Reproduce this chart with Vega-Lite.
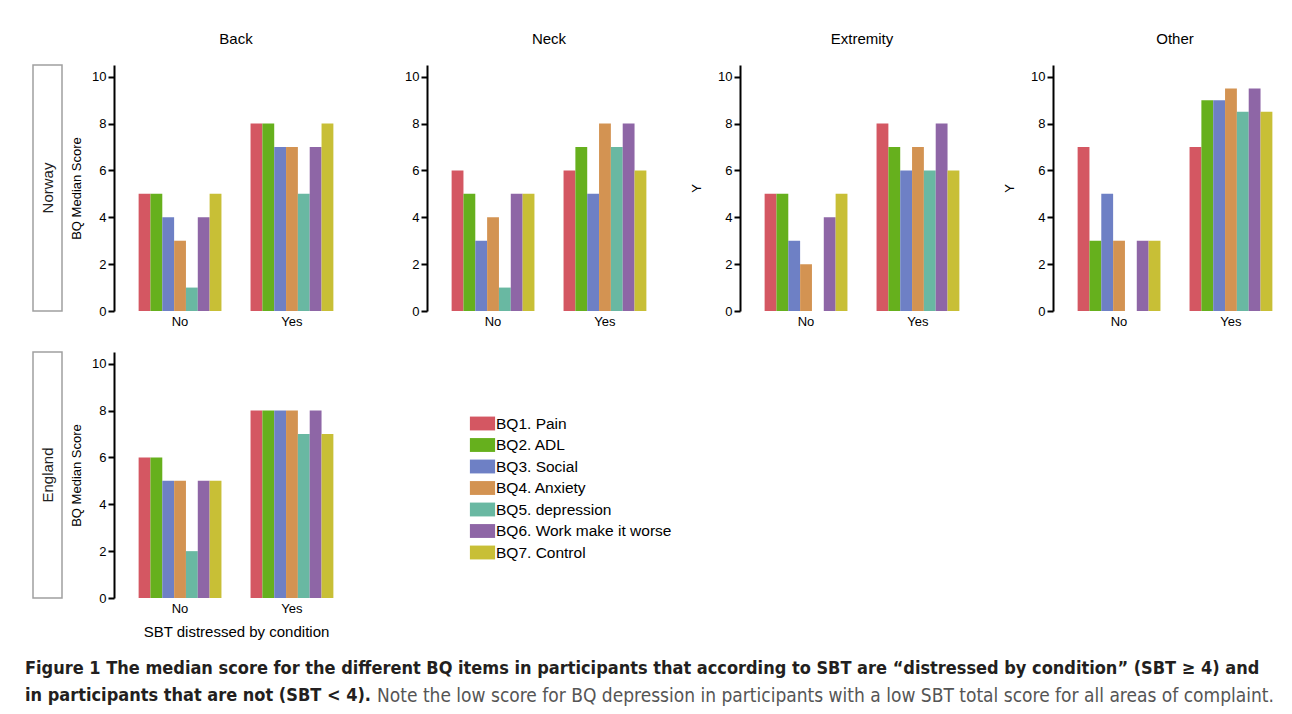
{
  "$schema": "https://vega.github.io/schema/vega-lite/v6.json",
  "padding": {"left": 25, "top": 31, "right": 0, "bottom": 0},
  "background": "white",
  "datasets": {
    "bq": [
      {"country": "Norway", "region": "Back", "sbt": "No", "item": "BQ1. Pain", "score": 5},
      {"country": "Norway", "region": "Back", "sbt": "No", "item": "BQ2. ADL", "score": 5},
      {"country": "Norway", "region": "Back", "sbt": "No", "item": "BQ3. Social", "score": 4},
      {"country": "Norway", "region": "Back", "sbt": "No", "item": "BQ4. Anxiety", "score": 3},
      {"country": "Norway", "region": "Back", "sbt": "No", "item": "BQ5. depression", "score": 1},
      {"country": "Norway", "region": "Back", "sbt": "No", "item": "BQ6. Work make it worse", "score": 4},
      {"country": "Norway", "region": "Back", "sbt": "No", "item": "BQ7. Control", "score": 5},
      {"country": "Norway", "region": "Back", "sbt": "Yes", "item": "BQ1. Pain", "score": 8},
      {"country": "Norway", "region": "Back", "sbt": "Yes", "item": "BQ2. ADL", "score": 8},
      {"country": "Norway", "region": "Back", "sbt": "Yes", "item": "BQ3. Social", "score": 7},
      {"country": "Norway", "region": "Back", "sbt": "Yes", "item": "BQ4. Anxiety", "score": 7},
      {"country": "Norway", "region": "Back", "sbt": "Yes", "item": "BQ5. depression", "score": 5},
      {"country": "Norway", "region": "Back", "sbt": "Yes", "item": "BQ6. Work make it worse", "score": 7},
      {"country": "Norway", "region": "Back", "sbt": "Yes", "item": "BQ7. Control", "score": 8},
      {"country": "Norway", "region": "Neck", "sbt": "No", "item": "BQ1. Pain", "score": 6},
      {"country": "Norway", "region": "Neck", "sbt": "No", "item": "BQ2. ADL", "score": 5},
      {"country": "Norway", "region": "Neck", "sbt": "No", "item": "BQ3. Social", "score": 3},
      {"country": "Norway", "region": "Neck", "sbt": "No", "item": "BQ4. Anxiety", "score": 4},
      {"country": "Norway", "region": "Neck", "sbt": "No", "item": "BQ5. depression", "score": 1},
      {"country": "Norway", "region": "Neck", "sbt": "No", "item": "BQ6. Work make it worse", "score": 5},
      {"country": "Norway", "region": "Neck", "sbt": "No", "item": "BQ7. Control", "score": 5},
      {"country": "Norway", "region": "Neck", "sbt": "Yes", "item": "BQ1. Pain", "score": 6},
      {"country": "Norway", "region": "Neck", "sbt": "Yes", "item": "BQ2. ADL", "score": 7},
      {"country": "Norway", "region": "Neck", "sbt": "Yes", "item": "BQ3. Social", "score": 5},
      {"country": "Norway", "region": "Neck", "sbt": "Yes", "item": "BQ4. Anxiety", "score": 8},
      {"country": "Norway", "region": "Neck", "sbt": "Yes", "item": "BQ5. depression", "score": 7},
      {"country": "Norway", "region": "Neck", "sbt": "Yes", "item": "BQ6. Work make it worse", "score": 8},
      {"country": "Norway", "region": "Neck", "sbt": "Yes", "item": "BQ7. Control", "score": 6},
      {"country": "Norway", "region": "Extremity", "sbt": "No", "item": "BQ1. Pain", "score": 5},
      {"country": "Norway", "region": "Extremity", "sbt": "No", "item": "BQ2. ADL", "score": 5},
      {"country": "Norway", "region": "Extremity", "sbt": "No", "item": "BQ3. Social", "score": 3},
      {"country": "Norway", "region": "Extremity", "sbt": "No", "item": "BQ4. Anxiety", "score": 2},
      {"country": "Norway", "region": "Extremity", "sbt": "No", "item": "BQ5. depression", "score": 0},
      {"country": "Norway", "region": "Extremity", "sbt": "No", "item": "BQ6. Work make it worse", "score": 4},
      {"country": "Norway", "region": "Extremity", "sbt": "No", "item": "BQ7. Control", "score": 5},
      {"country": "Norway", "region": "Extremity", "sbt": "Yes", "item": "BQ1. Pain", "score": 8},
      {"country": "Norway", "region": "Extremity", "sbt": "Yes", "item": "BQ2. ADL", "score": 7},
      {"country": "Norway", "region": "Extremity", "sbt": "Yes", "item": "BQ3. Social", "score": 6},
      {"country": "Norway", "region": "Extremity", "sbt": "Yes", "item": "BQ4. Anxiety", "score": 7},
      {"country": "Norway", "region": "Extremity", "sbt": "Yes", "item": "BQ5. depression", "score": 6},
      {"country": "Norway", "region": "Extremity", "sbt": "Yes", "item": "BQ6. Work make it worse", "score": 8},
      {"country": "Norway", "region": "Extremity", "sbt": "Yes", "item": "BQ7. Control", "score": 6},
      {"country": "Norway", "region": "Other", "sbt": "No", "item": "BQ1. Pain", "score": 7},
      {"country": "Norway", "region": "Other", "sbt": "No", "item": "BQ2. ADL", "score": 3},
      {"country": "Norway", "region": "Other", "sbt": "No", "item": "BQ3. Social", "score": 5},
      {"country": "Norway", "region": "Other", "sbt": "No", "item": "BQ4. Anxiety", "score": 3},
      {"country": "Norway", "region": "Other", "sbt": "No", "item": "BQ5. depression", "score": 0},
      {"country": "Norway", "region": "Other", "sbt": "No", "item": "BQ6. Work make it worse", "score": 3},
      {"country": "Norway", "region": "Other", "sbt": "No", "item": "BQ7. Control", "score": 3},
      {"country": "Norway", "region": "Other", "sbt": "Yes", "item": "BQ1. Pain", "score": 7},
      {"country": "Norway", "region": "Other", "sbt": "Yes", "item": "BQ2. ADL", "score": 9},
      {"country": "Norway", "region": "Other", "sbt": "Yes", "item": "BQ3. Social", "score": 9},
      {"country": "Norway", "region": "Other", "sbt": "Yes", "item": "BQ4. Anxiety", "score": 9.5},
      {"country": "Norway", "region": "Other", "sbt": "Yes", "item": "BQ5. depression", "score": 8.5},
      {"country": "Norway", "region": "Other", "sbt": "Yes", "item": "BQ6. Work make it worse", "score": 9.5},
      {"country": "Norway", "region": "Other", "sbt": "Yes", "item": "BQ7. Control", "score": 8.5},
      {"country": "England", "region": "Back", "sbt": "No", "item": "BQ1. Pain", "score": 6},
      {"country": "England", "region": "Back", "sbt": "No", "item": "BQ2. ADL", "score": 6},
      {"country": "England", "region": "Back", "sbt": "No", "item": "BQ3. Social", "score": 5},
      {"country": "England", "region": "Back", "sbt": "No", "item": "BQ4. Anxiety", "score": 5},
      {"country": "England", "region": "Back", "sbt": "No", "item": "BQ5. depression", "score": 2},
      {"country": "England", "region": "Back", "sbt": "No", "item": "BQ6. Work make it worse", "score": 5},
      {"country": "England", "region": "Back", "sbt": "No", "item": "BQ7. Control", "score": 5},
      {"country": "England", "region": "Back", "sbt": "Yes", "item": "BQ1. Pain", "score": 8},
      {"country": "England", "region": "Back", "sbt": "Yes", "item": "BQ2. ADL", "score": 8},
      {"country": "England", "region": "Back", "sbt": "Yes", "item": "BQ3. Social", "score": 8},
      {"country": "England", "region": "Back", "sbt": "Yes", "item": "BQ4. Anxiety", "score": 8},
      {"country": "England", "region": "Back", "sbt": "Yes", "item": "BQ5. depression", "score": 7},
      {"country": "England", "region": "Back", "sbt": "Yes", "item": "BQ6. Work make it worse", "score": 8},
      {"country": "England", "region": "Back", "sbt": "Yes", "item": "BQ7. Control", "score": 7}
    ]
  },
  "data": {"name": "bq"},
  "config": {
    "font": "Liberation Sans",
    "view": {"stroke": null},
    "title": {"fontSize": 15, "fontWeight": "normal", "color": "#000", "offset": 18},
    "axisY": {
      "values": [0, 1, 2, 3, 4, 5, 6, 7, 8, 9, 10],
      "labelExpr": "datum.value % 2 === 0 ? datum.label : ''",
      "tickSize": {"condition": {"test": "datum.value % 2 === 1", "value": 3}, "value": 6},
      "domainColor": "#000", "domainWidth": 2, "tickColor": "#000", "tickWidth": 2,
      "grid": false, "labelPadding": 2, "labelFontSize": 13, "labelColor": "#000",
      "titleFontSize": 13, "titleFontWeight": "normal", "titleColor": "#000", "titlePadding": 8
    },
    "axisX": {
      "domain": false, "ticks": false, "grid": false, "labelAngle": 0, "labelFontSize": 13,
      "labelColor": "#000", "labelPadding": 4, "titleFontSize": 15, "titleFontWeight": "normal",
      "titleColor": "#000", "titlePadding": 9
    }
  },
  "resolve": {"legend": {"color": "independent"}},
  "spacing": 16,
  "vconcat": [
    {
      "resolve": {"legend": {"color": "independent"}},
      "spacing": 23,
      "vconcat": [
        {
          "resolve": {"legend": {"color": "independent"}},
          "spacing": 6,
          "hconcat": [
            {"width": 1, "height": 1, "data": {"values": []}, "mark": "text"},
            {
              "resolve": {"legend": {"color": "independent"}},
              "spacing": 7,
              "hconcat": [
                {
                  "width": 29, "height": 246,
                  "title": " ",
                  "view": {"stroke": "#a0a0a0", "strokeWidth": 1.5},
                  "data": {"values": [{"label": "Norway"}]},
                  "mark": {"type": "text", "angle": 270, "fontSize": 15, "color": "#222"},
                  "encoding": {"text": {"field": "label", "type": "nominal"}}
                },
                {
                  "resolve": {"legend": {"color": "independent"}},
                  "spacing": 69,
                  "bounds": "flush",
                  "hconcat": [
                    {
                      "width": 244, "height": 246, "title": "Back",
                      "transform": [{"filter": "datum.country === 'Norway' && datum.region === 'Back'"}],
                      "mark": "bar",
                      "encoding": {
                        "x": {"field": "sbt", "type": "nominal", "scale": {"paddingInner": 0.26, "paddingOuter": 0.22}, "axis": {"title": null}},
                        "xOffset": {"field": "item", "type": "nominal", "scale": {"paddingInner": 0, "paddingOuter": 0}},
                        "y": {"field": "score", "type": "quantitative", "scale": {"domain": [0, 10.5], "nice": false}, "axis": {"title": "BQ Median Score"}},
                        "color": {"field": "item", "type": "nominal", "scale": {"domain": ["BQ1. Pain", "BQ2. ADL", "BQ3. Social", "BQ4. Anxiety", "BQ5. depression", "BQ6. Work make it worse", "BQ7. Control"], "range": ["#d45762", "#66b01d", "#6e80c5", "#d39352", "#69b8a2", "#8e66a6", "#c8bf36"]}, "legend": null}
                      }
                    },
                    {
                      "width": 244, "height": 246, "title": "Neck",
                      "transform": [{"filter": "datum.country === 'Norway' && datum.region === 'Neck'"}],
                      "mark": "bar",
                      "encoding": {
                        "x": {"field": "sbt", "type": "nominal", "scale": {"paddingInner": 0.26, "paddingOuter": 0.22}, "axis": {"title": null}},
                        "xOffset": {"field": "item", "type": "nominal", "scale": {"paddingInner": 0, "paddingOuter": 0}},
                        "y": {"field": "score", "type": "quantitative", "scale": {"domain": [0, 10.5], "nice": false}, "axis": {"title": null}},
                        "color": {"field": "item", "type": "nominal", "scale": {"domain": ["BQ1. Pain", "BQ2. ADL", "BQ3. Social", "BQ4. Anxiety", "BQ5. depression", "BQ6. Work make it worse", "BQ7. Control"], "range": ["#d45762", "#66b01d", "#6e80c5", "#d39352", "#69b8a2", "#8e66a6", "#c8bf36"]}, "legend": null}
                      }
                    },
                    {
                      "width": 244, "height": 246, "title": "Extremity",
                      "transform": [{"filter": "datum.country === 'Norway' && datum.region === 'Extremity'"}],
                      "mark": "bar",
                      "encoding": {
                        "x": {"field": "sbt", "type": "nominal", "scale": {"paddingInner": 0.26, "paddingOuter": 0.22}, "axis": {"title": null}},
                        "xOffset": {"field": "item", "type": "nominal", "scale": {"paddingInner": 0, "paddingOuter": 0}},
                        "y": {"field": "score", "type": "quantitative", "scale": {"domain": [0, 10.5], "nice": false}, "axis": {"title": "Y", "titlePadding": 14}},
                        "color": {"field": "item", "type": "nominal", "scale": {"domain": ["BQ1. Pain", "BQ2. ADL", "BQ3. Social", "BQ4. Anxiety", "BQ5. depression", "BQ6. Work make it worse", "BQ7. Control"], "range": ["#d45762", "#66b01d", "#6e80c5", "#d39352", "#69b8a2", "#8e66a6", "#c8bf36"]}, "legend": null}
                      }
                    },
                    {
                      "width": 244, "height": 246, "title": "Other",
                      "transform": [{"filter": "datum.country === 'Norway' && datum.region === 'Other'"}],
                      "mark": "bar",
                      "encoding": {
                        "x": {"field": "sbt", "type": "nominal", "scale": {"paddingInner": 0.26, "paddingOuter": 0.22}, "axis": {"title": null}},
                        "xOffset": {"field": "item", "type": "nominal", "scale": {"paddingInner": 0, "paddingOuter": 0}},
                        "y": {"field": "score", "type": "quantitative", "scale": {"domain": [0, 10.5], "nice": false}, "axis": {"title": "Y", "titlePadding": 14}},
                        "color": {"field": "item", "type": "nominal", "scale": {"domain": ["BQ1. Pain", "BQ2. ADL", "BQ3. Social", "BQ4. Anxiety", "BQ5. depression", "BQ6. Work make it worse", "BQ7. Control"], "range": ["#d45762", "#66b01d", "#6e80c5", "#d39352", "#69b8a2", "#8e66a6", "#c8bf36"]}, "legend": null}
                      }
                    }
                  ]
                }
              ]
            }
          ]
        },
        {
          "resolve": {"legend": {"color": "independent"}},
          "spacing": 6,
          "hconcat": [
            {"width": 1, "height": 1, "data": {"values": []}, "mark": "text"},
            {
              "resolve": {"legend": {"color": "independent"}},
              "spacing": 7,
              "hconcat": [
                {
                  "width": 29, "height": 246,
                  "view": {"stroke": "#a0a0a0", "strokeWidth": 1.5},
                  "data": {"values": [{"label": "England"}]},
                  "mark": {"type": "text", "angle": 270, "fontSize": 15, "color": "#222"},
                  "encoding": {"text": {"field": "label", "type": "nominal"}}
                },
                {
                  "width": 244, "height": 246,
                  "transform": [{"filter": "datum.country === 'England' && datum.region === 'Back'"}],
                  "mark": "bar",
                  "encoding": {
                    "x": {"field": "sbt", "type": "nominal", "scale": {"paddingInner": 0.26, "paddingOuter": 0.22}, "axis": {"title": "SBT distressed by condition"}},
                    "xOffset": {"field": "item", "type": "nominal", "scale": {"paddingInner": 0, "paddingOuter": 0}},
                    "y": {"field": "score", "type": "quantitative", "scale": {"domain": [0, 10.5], "nice": false}, "axis": {"title": "BQ Median Score"}},
                    "color": {
                      "field": "item", "type": "nominal",
                      "scale": {"domain": ["BQ1. Pain", "BQ2. ADL", "BQ3. Social", "BQ4. Anxiety", "BQ5. depression", "BQ6. Work make it worse", "BQ7. Control"], "range": ["#d45762", "#66b01d", "#6e80c5", "#d39352", "#69b8a2", "#8e66a6", "#c8bf36"]},
                      "legend": {
                        "orient": "none", "legendX": 358, "legendY": 61, "title": null,
                        "symbolType": "M-1.2,-0.66H1.2V0.66H-1.2Z", "symbolSize": 441,
                        "symbolStrokeWidth": 0, "symbolOpacity": 1,
                        "labelFontSize": 15.5, "labelColor": "#000", "labelOffset": 3, "labelLimit": 400,
                        "rowPadding": 2.5, "padding": 0
                      }
                    }
                  }
                }
              ]
            }
          ]
        }
      ]
    },
    {
      "width": 1240, "height": 54,
      "layer": [
        {
          "data": {"values": [
            {"line": "1", "t": "Figure 1 The median score for the different BQ items in participants that according to SBT are “distressed by condition” (SBT ≥ 4) and"},
            {"line": "2", "t": "in participants that are not (SBT < 4)."}
          ]},
          "mark": {"type": "text", "align": "left", "baseline": "middle", "font": "DejaVu Sans Condensed", "fontWeight": "bold", "fontSize": 18, "color": "#231f20"},
          "encoding": {
            "x": {"datum": 0, "type": "quantitative", "scale": {"domain": [0, 1]}, "axis": null},
            "y": {"field": "line", "type": "ordinal", "scale": {"type": "point", "padding": 0.5}, "axis": null},
            "text": {"field": "t", "type": "nominal"}
          }
        },
        {
          "data": {"values": [
            {"line": "2", "t": "Note the low score for BQ depression in participants with a low SBT total score for all areas of complaint."}
          ]},
          "mark": {"type": "text", "align": "left", "baseline": "middle", "font": "DejaVu Sans Condensed", "fontSize": 19, "color": "#555", "dx": 352},
          "encoding": {
            "x": {"datum": 0, "type": "quantitative", "scale": {"domain": [0, 1]}, "axis": null},
            "y": {"field": "line", "type": "ordinal", "scale": {"type": "point", "padding": 0.5}, "axis": null},
            "text": {"field": "t", "type": "nominal"}
          }
        }
      ]
    }
  ]
}
